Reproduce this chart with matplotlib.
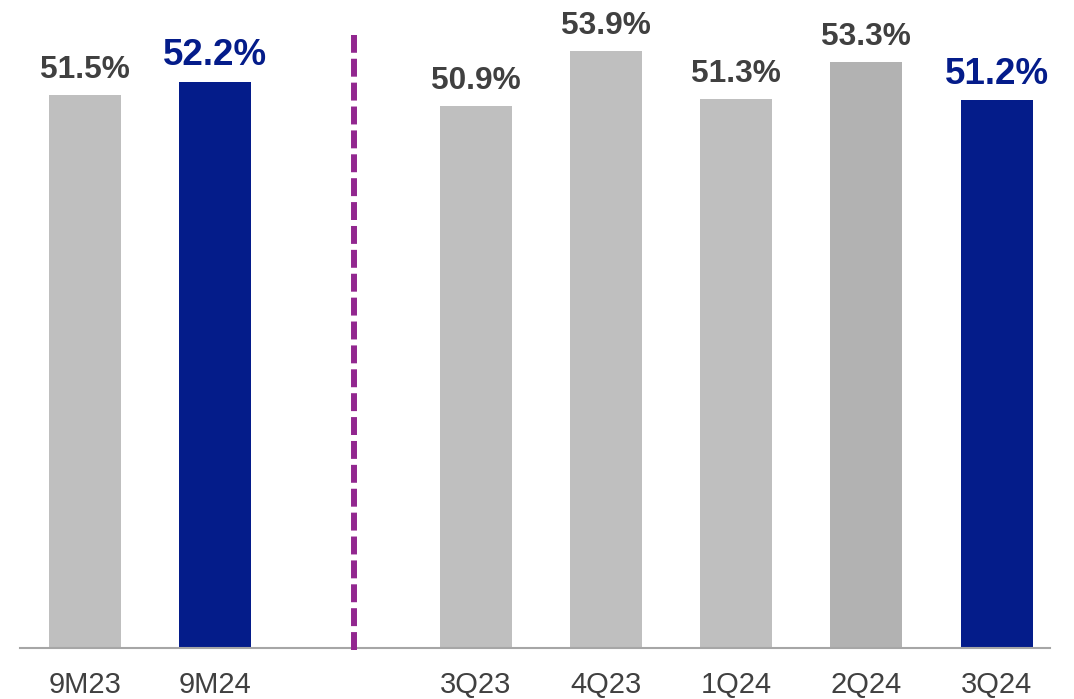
import matplotlib
matplotlib.use("Agg")
import matplotlib.pyplot as plt

plt.rcParams['font.family'] = ['Liberation Sans', 'DejaVu Sans']

# Cost/income style ratios, YTD vs quarterly
periods = ["9M23", "9M24", "3Q23", "4Q23", "1Q24", "2Q24", "3Q24"]
values = [51.5, 52.2, 50.9, 53.9, 51.3, 53.3, 51.2]
positions = [0, 1, 3, 4, 5, 6, 7]
highlight = [False, True, False, False, False, False, True]

GREY = '#BFBFBF'
GREY_DARK = '#B2B2B2'
NAVY = '#041C8A'
TEXT = '#404040'
PURPLE = '#92278F'

fig = plt.figure(figsize=(10.74, 6.99), dpi=100)
ax = fig.add_axes([0, 51 / 699, 1, 648 / 699])

colors = []
for p, h in zip(periods, highlight):
    if h:
        colors.append(NAVY)
    elif p == "2Q24":
        colors.append(GREY_DARK)
    else:
        colors.append(GREY)

ax.bar(positions, values, width=0.553, color=colors, zorder=2)

y0 = 21.33
ax.set_xlim(-0.653, 7.595)
ax.set_ylim(y0, y0 + 648 / 18.33)

for x, v, h in zip(positions, values, highlight):
    ax.annotate(f"{v:.1f}%", xy=(x, v), xytext=(0, 12.2), textcoords='offset points',
                ha='center', va='baseline', fontweight='bold',
                fontsize=26.5 if h else 22.8, color=NAVY if h else TEXT)

for x, p in zip(positions, periods):
    ax.annotate(p, xy=(x, y0), xytext=(0, -32.4), textcoords='offset points',
                ha='center', va='baseline', fontsize=21, color=TEXT,
                annotation_clip=False)

# baseline
ax.axhline(y0, xmin=20 / 1074, xmax=1050 / 1074, color='#A6A6A6', lw=1.5, zorder=3,
           clip_on=False)

# divider between YTD and quarterly bars
ax.plot([2.066, 2.066], [y0 + (648 - 650) / 18.33, y0 + (648 - 35) / 18.33],
        color=PURPLE, lw=4.3, dashes=(3, 1), solid_capstyle='butt',
        dash_capstyle='butt', clip_on=False, zorder=4)

ax.axis('off')
fig.savefig("out.png", dpi=100)
